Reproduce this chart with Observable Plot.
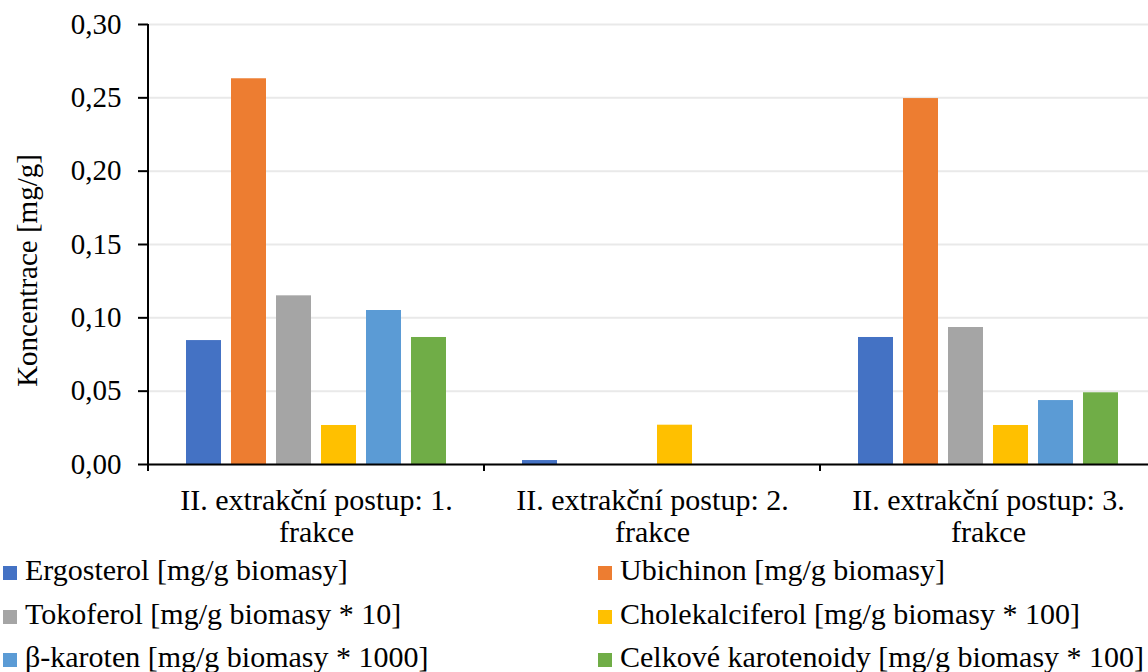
<!DOCTYPE html>
<html>
<head>
<meta charset="utf-8">
<script src="https://cdn.jsdelivr.net/npm/d3@7"></script>
<script src="https://cdn.jsdelivr.net/npm/@observablehq/plot@0.6"></script>
<style>
  html, body { margin: 0; padding: 0; background: #fff; overflow: hidden; }
  body { font-family: "Liberation Serif", Tinos, "Times New Roman", Times, "Noto Serif", "DejaVu Serif Condensed", "DejaVu Serif", serif; color: #000; width: 1148px; }
  #legend { display: grid; grid-template-columns: 595px 553px; font-size: 30px; line-height: 43.5px; }
  #legend .item { white-space: nowrap; }
  #legend .sw { display: inline-block; width: 14px; height: 14px; margin-left: 3px; margin-right: 8px; vertical-align: baseline; }
</style>
</head>
<body>
<div id="chart"></div>
<div id="legend"></div>
<script>
// ---- data ----
const groups = [
  "II. extrakční postup: 1. frakce",
  "II. extrakční postup: 2. frakce",
  "II. extrakční postup: 3. frakce"
];
const series = [
  "Ergosterol [mg/g biomasy]",
  "Ubichinon [mg/g biomasy]",
  "Tokoferol [mg/g biomasy * 10]",
  "Cholekalciferol [mg/g biomasy * 100]",
  "β-karoten [mg/g biomasy * 1000]",
  "Celkové karotenoidy [mg/g biomasy * 100]"
];
const colors = ["#4472C4", "#ED7D31", "#A5A5A5", "#FFC000", "#5B9BD5", "#70AD47"];
const ergosterol         = [0.0845, 0.0027, 0.0866];
const ubichinon          = [0.263,  0,      0.2495];
const tokoferol          = [0.115,  0,      0.0934];
const cholekalciferol    = [0.0266, 0.0268, 0.0266];
const betaKaroten        = [0.105,  0,      0.0436];
const celkoveKarotenoidy = [0.0866, 0,      0.0489];
const yTicks = [0, 0.05, 0.10, 0.15, 0.20, 0.25, 0.30];
const yLabel = "Koncentrace [mg/g]";

const values = [ergosterol, ubichinon, tokoferol, cholekalciferol, betaKaroten, celkoveKarotenoidy];
const table = groups.flatMap((g, i) => series.map((s, j) => ({group: g, series: s, value: values[j][i]})));

const fmt = d => d3.format(".2f")(d).replace(".", ",");
const FONT = '"Liberation Serif", Tinos, "Times New Roman", Times, "Noto Serif", "DejaVu Serif Condensed", "DejaVu Serif", serif';

const plot = Plot.plot({
  width: 1148,
  height: 548,
  marginLeft: 148,
  marginRight: -8,
  marginTop: 24,
  marginBottom: 84,
  style: {fontFamily: FONT, color: "black", background: "white", overflow: "visible"},
  fx: {domain: groups, padding: 0},
  x: {domain: series, paddingInner: 0.22, paddingOuter: 0.84, axis: null},
  y: {domain: [0, 0.30]},
  color: {domain: series, range: colors},
  marks: [
    Plot.gridY(yTicks, {stroke: "#e9e9e9", strokeOpacity: 1, strokeWidth: 2}),
    Plot.barY(table, {fx: "group", x: "series", y: "value", fill: "series"}),
    Plot.ruleY([0], {stroke: "black", strokeWidth: 2}),
    Plot.axisY(yTicks, {
      tickFormat: fmt, tickSize: 10, tickPadding: 17, strokeWidth: 2, stroke: "black",
      fontSize: 29, fontFamily: FONT, label: yLabel, labelAnchor: "center", labelOffset: 132, labelArrow: "none"
    }),
    Plot.axisFx({
      anchor: "bottom", tickSize: 0, tickPadding: 23, fontSize: 30, fontFamily: FONT, lineHeight: 1.07, label: null,
      tickFormat: d => d.replace(" frakce", "\nfrakce")
    })
  ]
});

document.getElementById("chart").appendChild(plot);

// boundary ticks and left axis line, positioned through the plot's own scales
const fxs = plot.scale("fx");
const ys = plot.scale("y");
const svg = d3.select(plot);
svg.selectAll("text").style("font-family", FONT);
const y0 = ys.apply(0);
const bounds = groups.map(g => fxs.apply(g)).concat([fxs.apply(groups[groups.length - 1]) + fxs.bandwidth]);
const gg = svg.append("g").attr("stroke", "black").attr("stroke-width", 2);
gg.selectAll("line.b").data(bounds).join("line")
  .attr("x1", d => d).attr("x2", d => d)
  .attr("y1", y0).attr("y2", y0 + 7);
gg.append("line")
  .attr("x1", bounds[0]).attr("x2", bounds[0])
  .attr("y1", ys.apply(0.30)).attr("y2", y0 + 7);

// shift the y-axis title slightly downward like the reference
const lab = svg.select('g[aria-label="y-axis label"]');
if (!lab.empty()) lab.attr("transform", (lab.attr("transform") || "") + " translate(0,26)");

// legend
const legend = d3.select("#legend");
series.forEach((s, i) => {
  const item = legend.append("div").attr("class", "item");
  item.append("span").attr("class", "sw").style("background", colors[i]);
  item.append("span").text(s);
});
</script>
</body>
</html>
